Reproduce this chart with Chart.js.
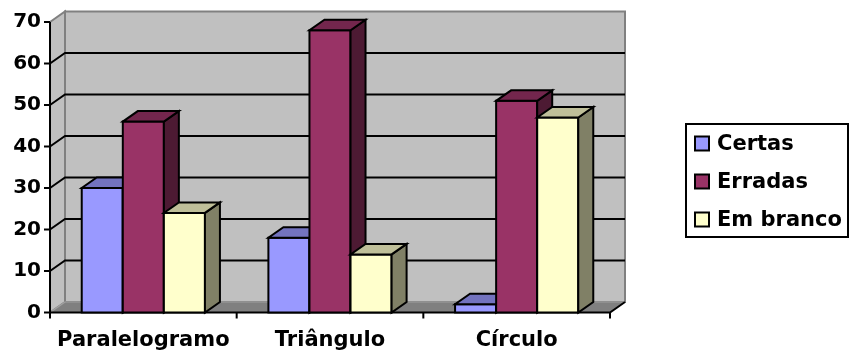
<!DOCTYPE html>
<html>
<head>
<meta charset="utf-8">
<script src="https://cdn.jsdelivr.net/npm/chart.js@4.4.0/dist/chart.umd.min.js"></script>
<style>
  html, body { margin: 0; padding: 0; background: #fff; overflow: hidden; }
  canvas { display: block; }
</style>
</head>
<body>
<canvas id="chart" width="850" height="356"></canvas>
<script>
// Results per figure
const categories = ['Paralelogramo', 'Triângulo', 'Círculo'];
const certas = [30, 18, 2];
const erradas = [46, 68, 51];
const emBranco = [24, 14, 47];
const seriesNames = ['Certas', 'Erradas', 'Em branco'];
const yMax = 70;
const yStep = 10;

// front / top / side shades of each series
const faceColors = [
  { front: '#9999FF', top: '#7373BF', side: '#4D4D80' },
  { front: '#993366', top: '#73264D', side: '#4D1A33' },
  { front: '#FFFFCC', top: '#BFBF99', side: '#808066' }
];

// depth offset of the 3D box
const DX = 15, DY = -10.5;
const FONT = '"DejaVu Sans", Arial, sans-serif';

function poly(ctx, pts, fill, stroke, lw) {
  ctx.beginPath();
  ctx.moveTo(pts[0][0], pts[0][1]);
  for (let i = 1; i < pts.length; i++) ctx.lineTo(pts[i][0], pts[i][1]);
  ctx.closePath();
  if (fill) { ctx.fillStyle = fill; ctx.fill(); }
  if (stroke) { ctx.strokeStyle = stroke; ctx.lineWidth = lw || 2; ctx.stroke(); }
}

function line(ctx, pts, color, lw) {
  ctx.beginPath();
  ctx.moveTo(pts[0][0], pts[0][1]);
  for (let i = 1; i < pts.length; i++) ctx.lineTo(pts[i][0], pts[i][1]);
  ctx.strokeStyle = color;
  ctx.lineWidth = lw || 2;
  ctx.stroke();
}

const threeD = {
  id: 'threeD',
  // walls, floor, gridlines and axes behind the columns
  beforeDatasetsDraw(chart) {
    const ctx = chart.ctx;
    const a = chart.chartArea;
    const ys = chart.scales.y;
    const L = a.left, R = a.right, T = ys.getPixelForValue(yMax), B = ys.getPixelForValue(0);
    ctx.save();
    ctx.lineJoin = 'miter';
    // side wall
    poly(ctx, [[L, T], [L + DX, T + DY], [L + DX, B + DY], [L, B]], '#C0C0C0', '#808080', 2);
    // back wall
    poly(ctx, [[L + DX, T + DY], [R + DX, T + DY], [R + DX, B + DY], [L + DX, B + DY]], '#C0C0C0', '#808080', 2);
    // floor
    poly(ctx, [[L, B], [R, B], [R + DX, B + DY], [L + DX, B + DY]], '#808080', null);
    line(ctx, [[L + DX, B + DY], [R + DX, B + DY]], '#A0A0A0', 1);
    line(ctx, [[L, B], [L + DX, B + DY]], '#A0A0A0', 1.5);
    // gridlines
    for (let v = yStep; v < yMax; v += yStep) {
      const y = ys.getPixelForValue(v);
      line(ctx, [[L, y], [L + DX, y + DY], [R + DX, y + DY]], '#000', 2);
    }
    // value axis with tick marks
    line(ctx, [[L, T], [L, B]], '#000', 2);
    for (let v = 0; v <= yMax; v += yStep) {
      const y = ys.getPixelForValue(v);
      line(ctx, [[L - 6, y], [L, y]], '#000', 2);
    }
    // category axis with tick marks
    line(ctx, [[L - 1, B], [R, B], [R + DX, B + DY]], '#000', 2);
    const n = categories.length;
    for (let i = 0; i <= n; i++) {
      const x = L + (R - L) * i / n;
      line(ctx, [[x, B], [x, B + 6]], '#000', 2);
    }
    ctx.restore();
  },
  // columns are drawn as boxes below, series by series from left to right
  beforeDatasetDraw() {
    return false;
  },
  afterDatasetsDraw(chart) {
    const ctx = chart.ctx;
    ctx.save();
    ctx.lineJoin = 'miter';
    chart.data.datasets.forEach((ds, i) => {
      const colors = faceColors[i];
      chart.getDatasetMeta(i).data.forEach(el => {
        const p = el.getProps(['x', 'y', 'base', 'width'], true);
        const l = p.x - p.width / 2, r = p.x + p.width / 2;
        const top = p.y, base = p.base;
        poly(ctx, [[l, top], [r, top], [r, base], [l, base]], colors.front, '#000', 2);
        poly(ctx, [[r, top], [r + DX, top + DY], [r + DX, base + DY], [r, base]], colors.side, '#000', 2);
        poly(ctx, [[l, top], [r, top], [r + DX, top + DY], [l + DX, top + DY]], colors.top, '#000', 2);
      });
    });
    ctx.restore();
  },
  // legend box
  afterDraw(chart) {
    const ctx = chart.ctx;
    ctx.save();
    poly(ctx, [[686, 124], [848, 124], [848, 237], [686, 237]], '#FFFFFF', '#000', 2);
    ctx.font = 'bold 21px ' + FONT;
    ctx.textBaseline = 'middle';
    ctx.textAlign = 'left';
    chart.data.datasets.forEach((ds, i) => {
      const cy = 143.5 + i * 38;
      ctx.fillStyle = ds.backgroundColor;
      ctx.fillRect(695, cy - 7, 14, 14);
      ctx.strokeStyle = '#000';
      ctx.lineWidth = 2;
      ctx.strokeRect(695, cy - 7, 14, 14);
      ctx.fillStyle = '#000';
      ctx.fillText(ds.label, 717, cy + 1);
    });
    ctx.restore();
  }
};

const seriesValues = [certas, erradas, emBranco];

new Chart(document.getElementById('chart'), {
  type: 'bar',
  data: {
    labels: categories,
    datasets: seriesValues.map((vals, i) => ({
      label: seriesNames[i],
      data: vals,
      backgroundColor: faceColors[i].front,
      borderWidth: 0,
      categoryPercentage: 0.66,
      barPercentage: 1.0
    }))
  },
  options: {
    responsive: false,
    animation: false,
    devicePixelRatio: 1,
    layout: { padding: { left: 0, top: 22, right: 240, bottom: 0 } },
    plugins: {
      legend: { display: false },
      tooltip: { enabled: false }
    },
    scales: {
      x: {
        grid: { display: false, drawTicks: false },
        border: { display: false },
        ticks: {
          color: '#000',
          padding: 15,
          font: { family: FONT, size: 21, weight: 'bold' }
        },
        afterFit(scale) { scale.height = 43.5; }
      },
      y: {
        min: 0,
        max: yMax,
        grid: { display: false, drawTicks: false },
        border: { display: false },
        ticks: {
          stepSize: yStep,
          color: '#000',
          padding: 9,
          font: { family: FONT, size: 20, weight: 'bold' }
        },
        afterFit(scale) { scale.width = 50; }
      }
    }
  },
  plugins: [threeD]
});
</script>
</body>
</html>
